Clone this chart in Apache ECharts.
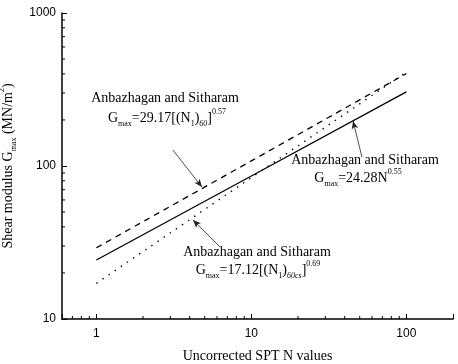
<!DOCTYPE html>
<html>
<head>
<meta charset="utf-8">
<script src="https://cdn.jsdelivr.net/npm/echarts@6/dist/echarts.min.js"></script>
<style>
html, body { margin: 0; padding: 0; background: #fff; }
#main { width: 458px; height: 364px; }
</style>
</head>
<body>
<div id="main"></div>
<script>
// values at N = 1, 10, 100
var nValues = [1, 10, 100];
var gSolid = [24.3, 86, 305];
var gDashed = [29.2, 108, 402];
var gDotted = [17.1, 84, 411];

var xMinor = [0.7, 0.8, 0.9, 2, 3, 4, 5, 6, 7, 8, 9, 20, 30, 40, 50, 60, 70, 80, 90];
var yMinor = [20, 30, 40, 50, 60, 70, 80, 90, 200, 300, 400, 500, 600, 700, 800, 900];

var serif = 'Liberation Serif';
var sans = 'Liberation Sans';

function pairs(ys) {
    return nValues.map(function (n, i) { return [n, ys[i]]; });
}

function decadeLabel(v) {
    var l = Math.log(v) / Math.LN10;
    return Math.abs(l - Math.round(l)) < 1e-6 ? String(Math.round(v)) : '';
}

var rich = {
    n: { fontFamily: serif, fontSize: 14, lineHeight: 20, color: '#000', verticalAlign: 'middle' },
    s: { fontFamily: serif, fontSize: 8, lineHeight: 8, color: '#000', verticalAlign: 'bottom' },
    si: { fontFamily: serif, fontSize: 8, lineHeight: 8, color: '#000', verticalAlign: 'bottom', fontStyle: 'italic' },
    p: { fontFamily: serif, fontSize: 8, lineHeight: 8, color: '#000', verticalAlign: 'top' }
};

var myChart = echarts.init(document.getElementById('main'));

var option = {
    animation: false,
    backgroundColor: '#fff',
    grid: { left: 62, right: 5, top: 13, bottom: 45, containLabel: false, outerBoundsMode: 'none' },
    xAxis: {
        type: 'log',
        logBase: 10,
        min: 0.6,
        max: 200,
        name: 'Uncorrected SPT N values',
        nameLocation: 'middle',
        nameGap: 30,
        nameTextStyle: { fontFamily: serif, fontSize: 14, color: '#000' },
        axisLine: { lineStyle: { color: '#000', width: 1.5 } },
        axisTick: { inside: true, length: 5, lineStyle: { color: '#000' } },
        axisLabel: { formatter: decadeLabel, fontFamily: sans, fontSize: 12, color: '#000', margin: 9 },
        splitLine: { show: false }
    },
    yAxis: {
        type: 'log',
        logBase: 10,
        min: 10,
        max: 1000,
        name: '{n|Shear modulus G}{s|max}{n| (MN/m}{p|2}{n|)}',
        nameLocation: 'middle',
        nameRotate: 90,
        nameGap: 36,
        nameTextStyle: { rich: rich },
        axisLine: { lineStyle: { color: '#000', width: 1.5 } },
        axisTick: { inside: true, length: 5, lineStyle: { color: '#000' } },
        axisLabel: { formatter: decadeLabel, fontFamily: sans, fontSize: 12, color: '#000', margin: 6 },
        splitLine: { show: false }
    },
    series: [{
        name: 'solid',
        type: 'line',
        data: pairs(gSolid),
        symbol: 'none',
        lineStyle: { color: '#000', width: 1.3 },
        markLine: {
            silent: true,
            symbol: ['none', 'arrow'],
            symbolSize: [5, 8],
            label: { show: false },
            lineStyle: { color: '#222', width: 0.8, type: 'solid' },
            data: [
                [{ coord: [3.12, 127] }, { coord: [4.8, 72.9] }],
                [{ coord: [51.7, 114.5] }, { coord: [45.3, 196.8] }],
                [{ coord: [6.27, 29.6] }, { coord: [4.2, 44.4] }]
            ]
        }
    }, {
        name: 'dashed',
        type: 'line',
        data: pairs(gDashed),
        symbol: 'none',
        lineStyle: { color: '#000', width: 1.3, type: [6, 5] }
    }, {
        name: 'dotted',
        type: 'line',
        data: pairs(gDotted),
        symbol: 'none',
        lineStyle: { color: '#000', width: 1.4, type: [1.4, 6] }
    }]
};
myChart.setOption(option);

// minor ticks and text annotations
var elems = [];
xMinor.forEach(function (v) {
    var p = myChart.convertToPixel({ gridIndex: 0 }, [v, 10]);
    elems.push({ type: 'line', shape: { x1: p[0], y1: p[1], x2: p[0], y2: p[1] - 3 }, style: { stroke: '#000', lineWidth: 1 } });
});
yMinor.forEach(function (v) {
    var p = myChart.convertToPixel({ gridIndex: 0 }, [0.6, v]);
    elems.push({ type: 'line', shape: { x1: p[0], y1: p[1], x2: p[0] + 3, y2: p[1] }, style: { stroke: '#000', lineWidth: 1 } });
});

function note(x, y, text) {
    elems.push({
        type: 'text', x: x, y: y,
        style: { text: text, rich: rich, align: 'center', verticalAlign: 'middle' }
    });
}
note(165, 98, '{n|Anbazhagan and Sitharam}');
note(167, 118, '{n|G}{s|max}{n|=29.17[(N}{s|1}{n|)}{si|60}{n|]}{p|0.57}');
note(365, 160, '{n|Anbazhagan and Sitharam}');
note(358, 178, '{n|G}{s|max}{n|=24.28N}{p|0.55}');
note(257, 252, '{n|Anbazhagan and Sitharam}');
note(258, 270, '{n|G}{s|max}{n|=17.12[(N}{s|1}{n|)}{si|60cs}{n|]}{p|0.69}');

myChart.setOption({ graphic: elems });
</script>
</body>
</html>
